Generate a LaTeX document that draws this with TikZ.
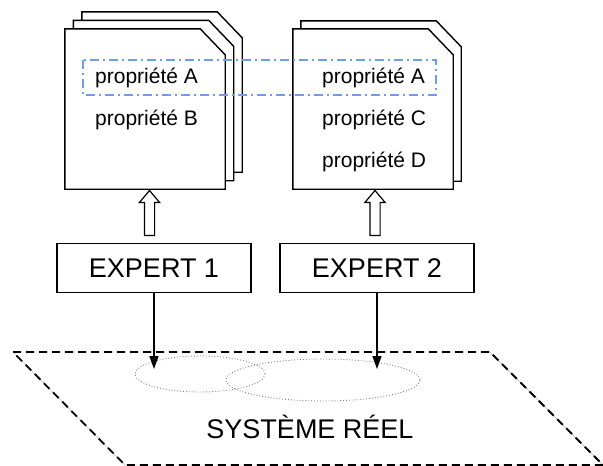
\documentclass[tikz,border=0pt]{standalone}
\usepackage{fontspec}
\setmainfont{Liberation Sans}
\usepackage{tikz}
\usetikzlibrary{shapes.arrows,shapes.geometric,arrows.meta,calc}

\definecolor{bleu}{HTML}{6D9EEB}

\tikzset{
  page/.style={minimum width=160pt, minimum height=160pt, inner sep=0pt},
  sheet/.style={draw=black, line width=1.4pt, fill=white},
  prop/.style={anchor=west, inner sep=0pt, font=\fontsize{21}{24}\selectfont},
  expert/.style={draw, line width=1.4pt, minimum width=194pt, minimum height=49pt,
    font=\fontsize{27}{30}\selectfont},
  hollow/.style={draw, line width=1.2pt, single arrow, inner sep=4.5pt,
    single arrow head extend=5pt, single arrow tip angle=80, minimum height=45pt},
  fleche/.style={line width=1.6pt, -{Triangle[length=13pt,width=9pt]}},
  zone/.style={draw=gray, dotted, line width=0.9pt, ellipse, inner sep=0pt},
  selection/.style={draw=bleu, line width=1.4pt, dash pattern=on 9pt off 4pt on 2pt off 4pt}
}

% feuille a coin coupe, autour d'un noeud page
\newcommand{\feuille}[1]{%
  \draw[sheet] (#1.south west) |- ([xshift=-25pt]#1.north east)
    -- ([yshift=-26pt]#1.north east) -- (#1.south east) -- cycle;}

\begin{document}
\begin{tikzpicture}[x=1pt, y=-1pt]
\useasboundingbox (0,0) rectangle (603,466);

% documents
\node[page] (doc1c) at (162,92) {};
\node[page] (doc1b) at (153.5,100.5) {};
\node[page] (doc1) at (145,109) {};
\feuille{doc1c}
\feuille{doc1b}
\feuille{doc1}

\node[page] (doc2b) at (381,101) {};
\node[page] (doc2) at (373,109) {};
\feuille{doc2b}
\feuille{doc2}

\node[prop] (p1a) at (95,78) {propriété A};
\node[prop] (p1b) at (95,120) {propriété B};
\node[prop] (p2a) at (322,78) {propriété A};
\node[prop] (p2c) at (322,120) {propriété C};
\node[prop] (p2d) at (322,162) {propriété D};

\draw[selection] (83,60) rectangle (436,95);

% experts
\node[expert] (exp1) at (154,268) {EXPERT 1};
\node[expert] (exp2) at (377,268) {EXPERT 2};

\node[hollow, rotate=90] (h1) at ($(exp1.north)!0.5!(doc1.south)$) {};
\node[hollow, rotate=90] (h2) at ($(exp2.north)!0.5!(doc2.south)$) {};

% systeme reel
\draw[gray!60, line width=0.4pt] (13,352) -- (490,352) -- (603,465) -- (125,465) -- cycle;
\draw[line width=1.8pt, dash pattern=on 8pt off 5pt] (13,352) -- (490,352) -- (603,465) -- (125,465) -- cycle;

\node[zone, minimum width=130pt, minimum height=36pt] (z1) at (200,374) {};
\node[zone, minimum width=194pt, minimum height=42pt] (z2) at (323,380) {};

\node[font=\fontsize{27}{30}\selectfont] (sys) at (310,427) {SYSTÈME RÉEL};

\coordinate (c1) at (exp1.south |- 0,369);
\coordinate (c2) at (exp2.south |- 0,369);
\draw[fleche] (exp1.south) -- (c1);
\draw[fleche] (exp2.south) -- (c2);
\end{tikzpicture}
\end{document}
